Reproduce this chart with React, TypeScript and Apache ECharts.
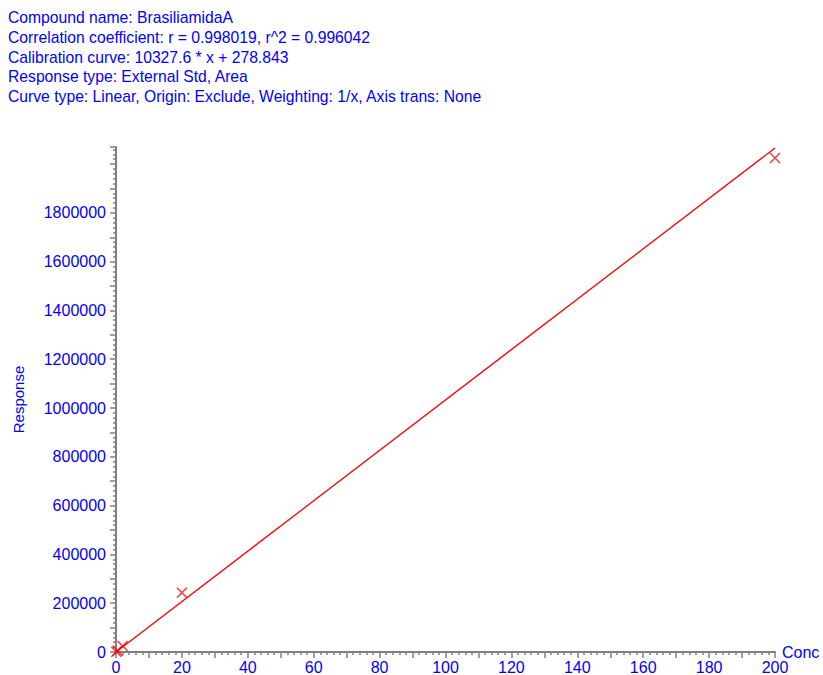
import React, { useEffect, useRef } from "react";
import * as echarts from "echarts";

// Calibration standards (concentration vs. peak area)
const concentrations = [0.1, 0.5, 2, 20, 200];
const responses = [1500, 4800, 25000, 243000, 2025000];

// Fitted calibration line: y = slope * x + intercept
const slope = 10327.6;
const intercept = 278.843;
const fitRange = [0, 200];

const headerLines = [
  "Compound name: BrasiliamidaA",
  "Correlation coefficient: r = 0.998019, r^2 = 0.996042",
  "Calibration curve: 10327.6 * x + 278.843",
  "Response type: External Std, Area",
  "Curve type: Linear, Origin: Exclude, Weighting: 1/x, Axis trans: None",
];

const FONT = "'Liberation Sans', Arial, sans-serif";
const BLUE = "#0000ff";
const AXIS_GRAY = "#808080";
const RED = "#ff0000";

export default function App() {
  const ref = useRef<HTMLDivElement>(null);

  useEffect(() => {
    if (!ref.current) return;
    const chart = echarts.init(ref.current, undefined, { renderer: "svg" });

    const points = concentrations.map((c, i) => [c, responses[i]]);
    const fitLine = fitRange.map((x) => [x, slope * x + intercept]);

    chart.setOption({
      animation: false,
      backgroundColor: "#ffffff",
      title: {
        text: headerLines.join("\n"),
        left: 8,
        top: 8,
        padding: 0,
        textStyle: {
          fontFamily: FONT,
          fontSize: 15.7,
          fontWeight: "normal",
          color: BLUE,
          lineHeight: 19.7,
        },
      },
      grid: {
        left: 116,
        right: 48,
        top: 147,
        bottom: 23,
        containLabel: false,
        outerBoundsMode: "none",
      },
      xAxis: {
        type: "value",
        min: 0,
        max: 200,
        interval: 10,
        name: "Conc",
        nameLocation: "end",
        nameGap: 7,
        nameMoveOverlap: false,
        nameTextStyle: { fontFamily: FONT, fontSize: 16, color: BLUE },
        splitLine: { show: false },
        axisLine: { show: true, onZero: false, lineStyle: { color: AXIS_GRAY, width: 2 } },
        axisTick: { show: true, length: 6, lineStyle: { color: AXIS_GRAY, width: 1.5 } },
        minorTick: { show: true, splitNumber: 5, length: 3, lineStyle: { color: AXIS_GRAY, width: 1.5 } },
        axisLabel: {
          fontFamily: FONT,
          fontSize: 16,
          color: BLUE,
          margin: 7,
          formatter: (v: number) => (v % 20 === 0 ? String(v) : ""),
        },
      },
      yAxis: {
        type: "value",
        min: 0,
        max: 2070000,
        interval: 100000,
        name: "Response",
        nameLocation: "middle",
        nameRotate: 90,
        nameGap: 90,
        nameMoveOverlap: false,
        nameTextStyle: { fontFamily: FONT, fontSize: 15, color: BLUE },
        splitLine: { show: false },
        axisLine: { show: true, onZero: false, lineStyle: { color: AXIS_GRAY, width: 2 } },
        axisTick: { show: true, length: 6, lineStyle: { color: AXIS_GRAY, width: 1.5 } },
        minorTick: { show: true, splitNumber: 5, length: 3, lineStyle: { color: AXIS_GRAY, width: 1.5 } },
        axisLabel: {
          fontFamily: FONT,
          fontSize: 16,
          color: BLUE,
          margin: 10,
          showMaxLabel: false,
          formatter: (v: number) => (v % 200000 === 0 && v <= 1800000 ? String(v) : ""),
        },
      },
      series: [
        {
          type: "line",
          data: fitLine,
          showSymbol: false,
          silent: true,
          lineStyle: { color: RED, width: 1.3 },
          z: 2,
        },
        {
          type: "scatter",
          data: points,
          symbol: "path://M0,0L10,10M10,0L0,10",
          symbolSize: 10,
          itemStyle: { color: "none", borderColor: RED, borderWidth: 1.4 },
          z: 3,
        },
      ],
    });

    return () => chart.dispose();
  }, []);

  return (
    <div
      ref={ref}
      style={{ position: "fixed", left: 0, top: 0, width: 823, height: 675 }}
    />
  );
}
